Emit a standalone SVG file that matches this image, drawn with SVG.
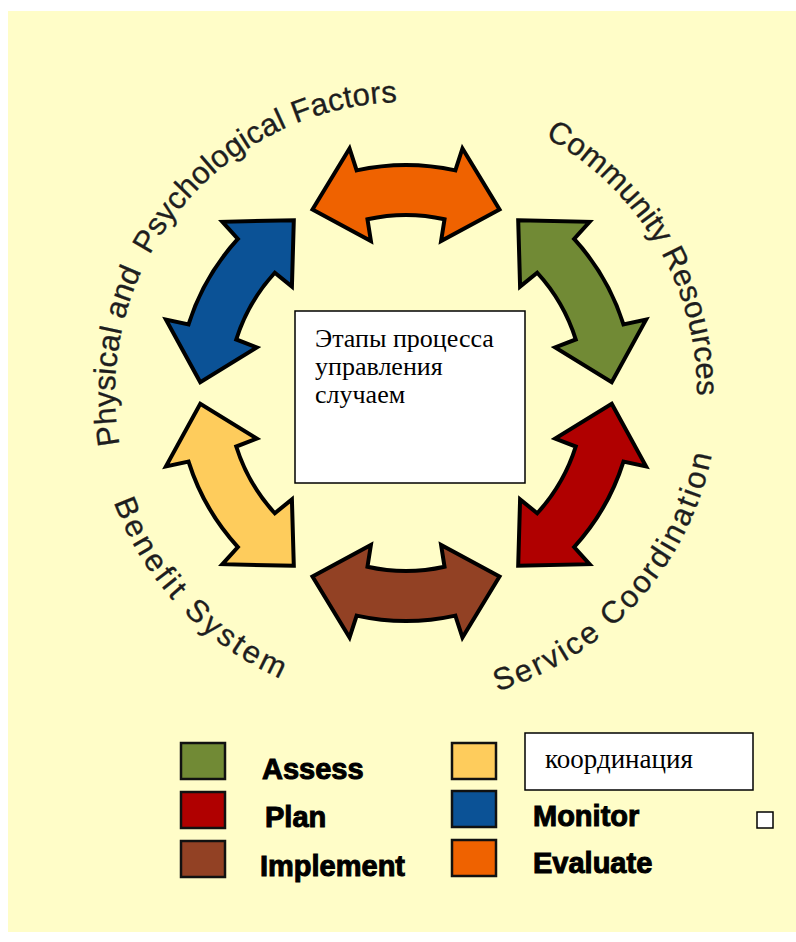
<svg xmlns="http://www.w3.org/2000/svg" width="796" height="942" viewBox="0 0 796 942">
<style>
.arrow{stroke:#000;stroke-width:4;stroke-linejoin:miter;stroke-miterlimit:10}
.arc{font-family:"Liberation Sans",Arial,sans-serif;font-size:31px;fill:#1e1e1e;stroke:#1e1e1e;stroke-width:0.3}
.sw{stroke:#111;stroke-width:2.5}
.lbl{font-family:"Liberation Sans",Arial,sans-serif;font-weight:bold;font-size:29px;fill:#000;stroke:#000;stroke-width:1}
.ru{font-family:"Liberation Serif","Times New Roman",serif;font-size:26px;fill:#000}
.box{fill:#fff;stroke:#000;stroke-width:1.5}
</style>
<defs>
<path id="arrowShape" d="M 312.48 209.45 L 349.54 148.43 L 356.65 170.40 A 228 228 0 0 1 455.35 170.40 L 462.46 148.43 L 499.52 209.45 L 441.09 241.00 L 444.53 219.22 A 178 178 0 0 0 367.47 219.22 L 370.91 241.00 Z"/>
<path id="p1" d="M 119.60 444.55 A 291 291 0 0 1 456.53 106.42"/>
<path id="p2" d="M 544.85 137.26 A 291 291 0 0 1 695.89 418.36"/>
<path id="p3" d="M 497.22 691.37 A 312 312 0 0 0 716.81 420.19"/>
<path id="p4" d="M 113.76 502.27 A 312 312 0 0 0 325.25 694.37"/>
</defs>
<rect id="background" x="8" y="11" width="788" height="921" fill="#FFFDC8"/>
<g id="connectors">
<g id="arrow-evaluate"><use href="#arrowShape" class="arrow" fill="#EF6200"/></g>
<g id="arrow-assess"><use href="#arrowShape" class="arrow" fill="#718A35" transform="rotate(60 406 393)"/></g>
<g id="arrow-plan"><use href="#arrowShape" class="arrow" fill="#B00000" transform="rotate(120 406 393)"/></g>
<g id="arrow-implement"><use href="#arrowShape" class="arrow" fill="#924124" transform="rotate(180 406 393)"/></g>
<g id="arrow-coordinate"><use href="#arrowShape" class="arrow" fill="#FECC5C" transform="rotate(240 406 393)"/></g>
<g id="arrow-monitor"><use href="#arrowShape" class="arrow" fill="#0B5296" transform="rotate(300 406 393)"/></g>
</g>
<g id="ring-labels">
<text class="arc"><textPath href="#p1" textLength="500" lengthAdjust="spacing">Physical and&#160; Psychological Factors</textPath></text>
<text class="arc"><textPath href="#p2" textLength="315" lengthAdjust="spacing">Community Resources</textPath></text>
<text class="arc"><textPath href="#p3" textLength="335" lengthAdjust="spacing">Service Coordination</textPath></text>
<text class="arc"><textPath href="#p4" textLength="249" lengthAdjust="spacing">Benefit System</textPath></text>
</g>
<g id="center-box">
<rect class="box" x="295" y="311" width="230" height="172"/>
<text class="ru" x="315" y="347">Этапы процесса</text>
<text class="ru" x="315" y="375">управления</text>
<text class="ru" x="315" y="403">случаем</text>
</g>
<g id="legend">
<g id="legend-assess"><rect class="sw" x="181" y="743" width="44" height="36" fill="#718A35"/><text class="lbl" x="262" y="779">Assess</text></g>
<g id="legend-plan"><rect class="sw" x="181" y="792" width="44" height="36" fill="#B00000"/><text class="lbl" x="265" y="827">Plan</text></g>
<g id="legend-implement"><rect class="sw" x="181" y="841" width="44" height="36" fill="#924124"/><text class="lbl" x="260" y="876">Implement</text></g>
<g id="legend-coordinate"><rect class="sw" x="452" y="743" width="44" height="36" fill="#FECC5C"/></g>
<g id="legend-monitor"><rect class="sw" x="452" y="791" width="44" height="36" fill="#0B5296"/><text class="lbl" x="533" y="826">Monitor</text></g>
<g id="legend-evaluate"><rect class="sw" x="452" y="840" width="44" height="36" fill="#EF6200"/><text class="lbl" x="533" y="873">Evaluate</text></g>
</g>
<g id="coord-box">
<rect class="box" x="525" y="733" width="228" height="57"/>
<text class="ru" x="545" y="768" style="font-size:27px">координация</text>
</g>
<g id="small-box">
<rect class="box" x="757" y="812" width="16" height="16"/>
</g>
</svg>
